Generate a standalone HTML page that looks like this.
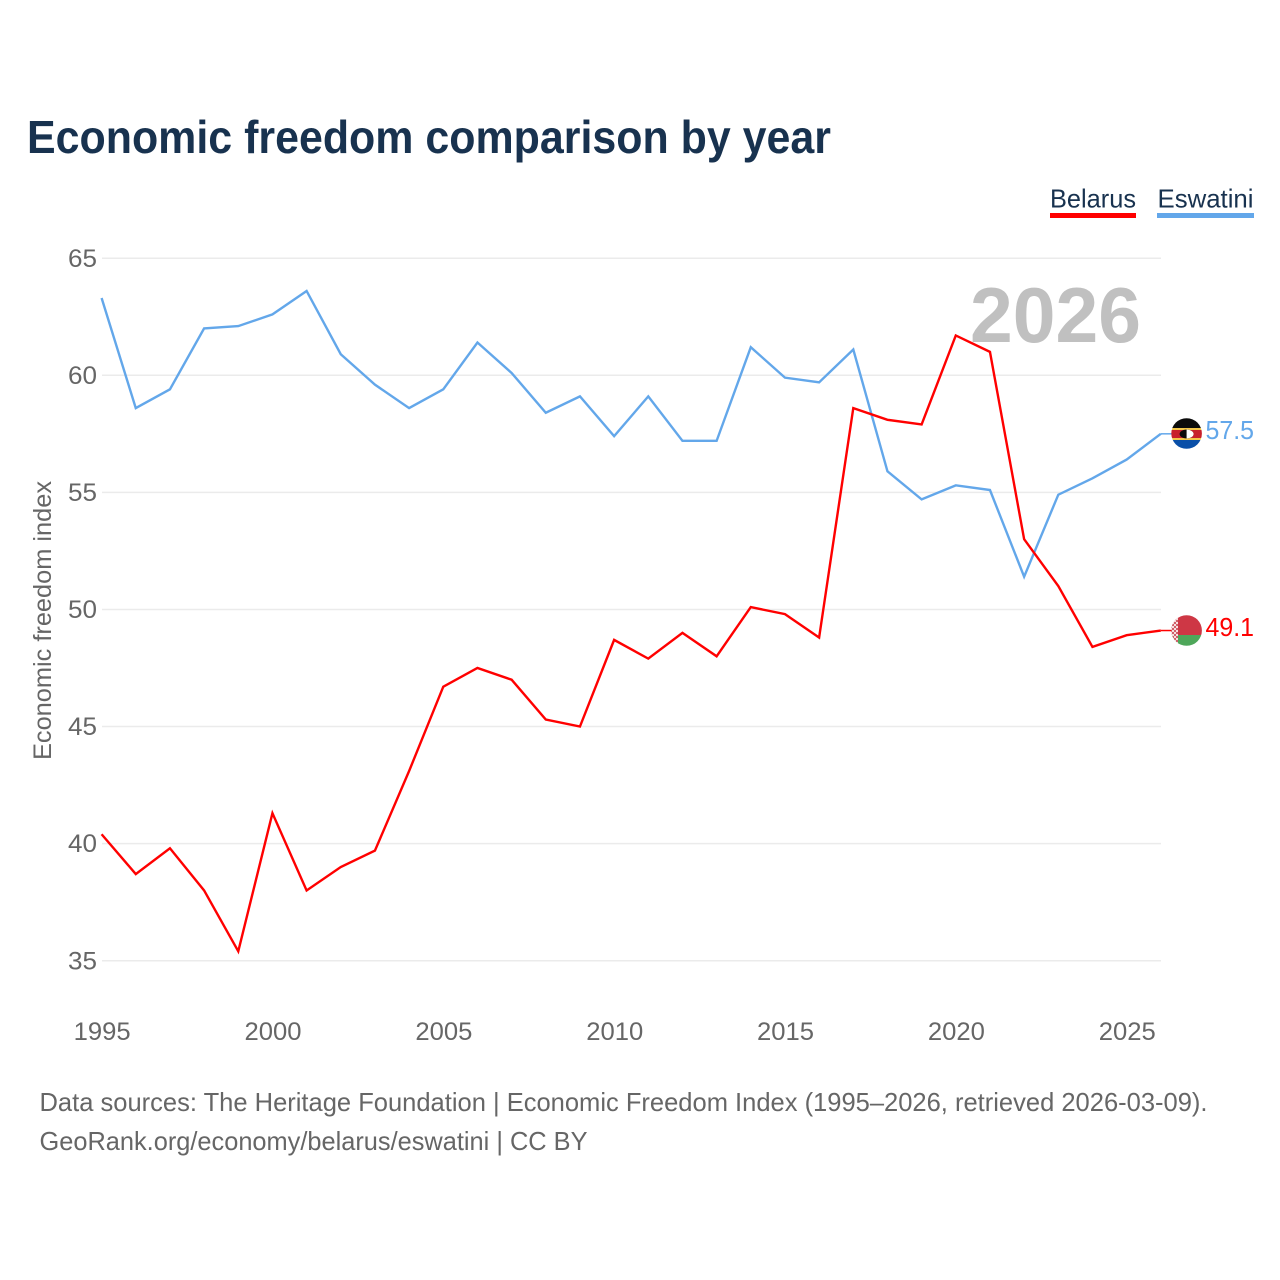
<!DOCTYPE html>
<html lang="en">
<head>
<meta charset="utf-8">
<title>Economic freedom comparison by year</title>
<style>
html,body{margin:0;padding:0;background:#fff;}
svg{display:block;}
text{font-family:"Liberation Sans",sans-serif;}
</style>
</head>
<body>
<svg id="chart" xmlns="http://www.w3.org/2000/svg" width="1280" height="1280" viewBox="0 0 1280 1280">
  <defs>
    <clipPath id="clip-esw"><circle cx="1186.6" cy="433.5" r="15.3"></circle></clipPath>
    <clipPath id="clip-blr"><circle cx="1186.6" cy="630.5" r="15.3"></circle></clipPath>
    <pattern id="blr-orn" width="4" height="4" patternUnits="userSpaceOnUse">
      <rect width="4" height="4" fill="#f6dfe0"></rect>
      <rect width="2" height="2" fill="#d0606a"></rect>
      <rect x="2" y="2" width="2" height="2" fill="#d0606a"></rect>
    </pattern>
  </defs>
  <rect width="1280" height="1280" fill="#fff"></rect>

  <text x="27" y="153" font-size="46" font-weight="700" fill="#18324f" textLength="804" lengthAdjust="spacingAndGlyphs">Economic freedom comparison by year</text>

  <g id="grid"></g>
  <g id="ytick"></g>
  <g id="xtick"></g>

  <text x="1141" y="342" text-anchor="end" font-size="78" font-weight="700" fill="#c0c0c0" textLength="171" lengthAdjust="spacingAndGlyphs">2026</text>

  <text transform="translate(51,760) rotate(-90)" font-size="25" fill="#666" textLength="279" lengthAdjust="spacingAndGlyphs">Economic freedom index</text>

  <g id="series"></g>

  <g>
    <text x="1050" y="207.5" font-size="26" fill="#18324f" textLength="86" lengthAdjust="spacingAndGlyphs">Belarus</text>
    <rect x="1050" y="213" width="86" height="5" fill="#ff0000"></rect>
  </g>
  <g>
    <text x="1157.5" y="207.5" font-size="26" fill="#18324f" textLength="96" lengthAdjust="spacingAndGlyphs">Eswatini</text>
    <rect x="1157" y="213" width="97" height="5" fill="#63a7ea"></rect>
  </g>

  <g clip-path="url(#clip-esw)">
    <rect x="1171" y="418" width="32" height="10" fill="#0b0b0b"></rect>
    <rect x="1171" y="428" width="32" height="2" fill="#f2c64a"></rect>
    <rect x="1171" y="430" width="32" height="8" fill="#c8202c"></rect>
    <rect x="1171" y="438" width="32" height="2" fill="#f2c64a"></rect>
    <rect x="1171" y="440" width="32" height="10" fill="#0a4fa8"></rect>
    <ellipse cx="1186.6" cy="434" rx="7" ry="4.5" fill="#0b0b0b"></ellipse>
    <path d="M1186.6 429.5 A7 4.5 0 0 1 1186.6 438.5 Z" fill="#fff"></path>
  </g>
  <g clip-path="url(#clip-blr)">
    <rect x="1171" y="615" width="32" height="20" fill="#ce3745"></rect>
    <rect x="1171" y="635" width="32" height="12" fill="#4ea75a"></rect>
    <rect x="1171" y="615" width="7" height="32" fill="url(#blr-orn)"></rect>
  </g>

  <text id="value-eswatini" x="1205.5" y="439" font-size="26" fill="#63a7ea" textLength="48.5" lengthAdjust="spacingAndGlyphs">57.5</text>
  <text id="value-belarus" x="1205.5" y="636" font-size="26" fill="#ff0000" textLength="48.5" lengthAdjust="spacingAndGlyphs">49.1</text>

  <text x="39.5" y="1111" font-size="26" fill="#666" textLength="1168" lengthAdjust="spacingAndGlyphs">Data sources: The Heritage Foundation | Economic Freedom Index (1995–2026, retrieved 2026-03-09).</text>
  <a><text x="39.5" y="1150" font-size="26" fill="#666" textLength="548" lengthAdjust="spacingAndGlyphs">GeoRank.org/economy/belarus/eswatini | CC BY</text></a>
</svg>
<script>
const startYear = 1995;
const belarusValues = [40.4,38.7,39.8,38.0,35.4,41.3,38.0,39.0,39.7,43.1,46.7,47.5,47.0,45.3,45.0,48.7,47.9,49.0,48.0,50.1,49.8,48.8,58.6,58.1,57.9,61.7,61.0,53.0,51.0,48.4,48.9,49.1];
const eswatiniValues = [63.3,58.6,59.4,62.0,62.1,62.6,63.6,60.9,59.6,58.6,59.4,61.4,60.1,58.4,59.1,57.4,59.1,57.2,57.2,61.2,59.9,59.7,61.1,55.9,54.7,55.3,55.1,51.4,54.9,55.6,56.4,57.5];
const yTicks = [35,40,45,50,55,60,65];
const xTicks = [1995,2000,2005,2010,2015,2020,2025];

const NS = 'http://www.w3.org/2000/svg';
const xScale = function (year) { return 101.6 + (year - 1995) * (1160.8 - 101.6) / 31; };
const yScale = function (v) { return 960.7 + (v - 35) * (258.2 - 960.7) / 30; };

const gridG = document.getElementById('grid');
const yG = document.getElementById('ytick');
const xG = document.getElementById('xtick');
const seriesG = document.getElementById('series');

yTicks.forEach(function (t) {
  const line = document.createElementNS(NS, 'line');
  
  
  line.setAttribute('x1', 102);
  line.setAttribute('x2', 1161);
  line.setAttribute('y1', yScale(t));
  line.setAttribute('y2', yScale(t));
  line.setAttribute('stroke', '#ebebeb');
  line.setAttribute('stroke-width', '1.5');
  gridG.appendChild(line);

  const label = document.createElementNS(NS, 'text');
  
  
  label.setAttribute('x', 97);
  label.setAttribute('y', yScale(t) + 8.6);
  label.setAttribute('text-anchor', 'end');
  label.setAttribute('font-size', '25');
  label.setAttribute('fill', '#666');
  label.setAttribute('textLength', '29');
  label.setAttribute('lengthAdjust', 'spacingAndGlyphs');
  label.textContent = t;
  yG.appendChild(label);
});

xTicks.forEach(function (t) {
  const label = document.createElementNS(NS, 'text');
  
  
  label.setAttribute('x', xScale(t) + 0.6);
  label.setAttribute('y', 1040);
  label.setAttribute('text-anchor', 'middle');
  label.setAttribute('font-size', '25');
  label.setAttribute('fill', '#666');
  label.setAttribute('textLength', '57');
  label.setAttribute('lengthAdjust', 'spacingAndGlyphs');
  label.textContent = t;
  xG.appendChild(label);
});

function toPoints(values) {
  return values.map(function (v, i) {
    return xScale(startYear + i).toFixed(2) + ',' + yScale(v).toFixed(2);
  }).join(' ');
}

function addLeader(values, color, name) {
  const last = values[values.length - 1];
  const leader = document.createElementNS(NS, 'line');
  
  
  leader.setAttribute('x1', xScale(2026));
  leader.setAttribute('x2', 1172);
  leader.setAttribute('y1', yScale(last));
  leader.setAttribute('y2', yScale(last));
  leader.setAttribute('stroke', color);
  leader.setAttribute('stroke-width', '1.5');
  seriesG.appendChild(leader);
}

const eswatiniLine = document.createElementNS(NS, 'polyline');


eswatiniLine.setAttribute('points', toPoints(eswatiniValues));
eswatiniLine.setAttribute('fill', 'none');
eswatiniLine.setAttribute('stroke', '#63a7ea');
eswatiniLine.setAttribute('stroke-width', '2.4');
seriesG.appendChild(eswatiniLine);
addLeader(eswatiniValues, '#63a7ea', 'leader-eswatini');

const belarusLine = document.createElementNS(NS, 'polyline');


belarusLine.setAttribute('points', toPoints(belarusValues));
belarusLine.setAttribute('fill', 'none');
belarusLine.setAttribute('stroke', '#ff0000');
belarusLine.setAttribute('stroke-width', '2.4');
seriesG.appendChild(belarusLine);
addLeader(belarusValues, '#ff0000', 'leader-belarus');
</script>
</body>
</html>
